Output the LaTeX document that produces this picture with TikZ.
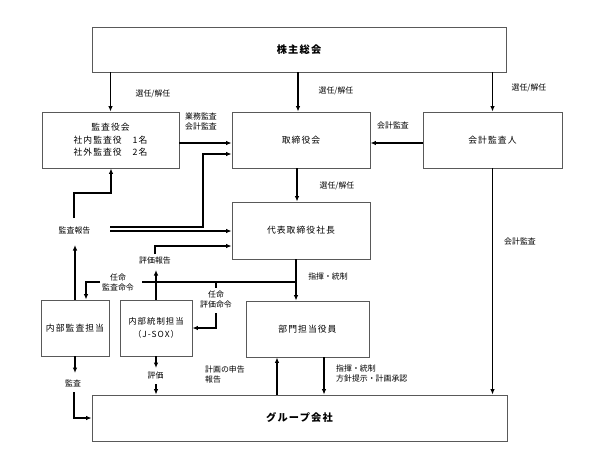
\documentclass[tikz,border=0pt]{standalone}
\usepackage{fontspec}
\setmainfont{Noto Sans CJK JP}
\newfontfamily\jpspaced{Noto Sans CJK JP}[LetterSpace=12]
\usetikzlibrary{arrows.meta}
\begin{document}
\begin{tikzpicture}[x=1pt,y=-1pt,
  box/.style={draw=black!65,line width=0.8pt,inner sep=0pt,align=center,
    font=\jpspaced\fontsize{8.8}{12.5}\selectfont},
  bigbox/.style={box,font=\jpspaced\bfseries\fontsize{10.2}{12}\selectfont},
  lbl/.style={font=\fontsize{7.9}{10}\selectfont,inner sep=0pt,align=center},
  arr/.style={line width=1.1pt,-{Latex[length=5.5pt,width=4.5pt]}},
  ln/.style={line width=1.1pt}]
\useasboundingbox[fill=white] (0,0) rectangle (600,455);

% boxes
\node[bigbox,minimum width=414pt,minimum height=45pt] (gm) at (299,49.5) {株主総会};
\node[box,minimum width=137pt,minimum height=56pt] (kansa) at (110.5,140) {監査役会\\社内監査役　1名\\社外監査役　2名};
\node[box,minimum width=138pt,minimum height=56pt] (tori) at (301,140) {取締役会};
\node[box,minimum width=139pt,minimum height=56pt] (kaikei) at (492.5,140) {会計監査人};
\node[box,minimum width=138pt,minimum height=57pt] (pres) at (301,230.5) {代表取締役社長};
\node[box,minimum width=68pt,minimum height=56pt] (naibu) at (75,328) {内部監査担当};
\node[box,minimum width=72pt,minimum height=56pt,font=\jpspaced\fontsize{8.4}{12.5}\selectfont] (tosei) at (156,328) {内部統制担当\\（J-SOX）};
\node[box,minimum width=123pt,minimum height=56pt] (bumon) at (307.5,329) {部門担当役員};
\node[bigbox,minimum width=415pt,minimum height=46pt] (group) at (299.5,418) {グループ会社};

% labels
\node[lbl] (l1) at (153,94) {選任/解任};
\node[lbl] (l2) at (336,91) {選任/解任};
\node[lbl] (l3) at (529,88) {選任/解任};
\node[lbl] (l4) at (201,122) {業務監査\\会計監査};
\node[lbl] (l5) at (393,126) {会計監査};
\node[lbl] (l6) at (337,186) {選任/解任};
\node[lbl] (l7) at (520,242) {会計監査};
\node[lbl] (kr) at (74.5,231) {監査報告};
\node[lbl] (hk) at (155,261) {評価報告};
\node[lbl] (nk) at (118,282) {任命\\監査命令};
\node[lbl] (nh) at (216,299) {任命\\評価命令};
\node[lbl] (l8) at (328,277) {指揮・統制};
\node[lbl] (ks) at (73,383) {監査};
\node[lbl] (hy) at (155.5,376) {評価};
\node[lbl,anchor=west,align=left] (l9) at (205,375) {計画の申告\\報告};
\node[lbl,anchor=west,align=left] (l10) at (336,374) {指揮・統制\\方針提示・計画承認};

% connectors from 株主総会
\draw[arr] (kansa.north |- gm.south) -- (kansa.north);
\draw[arr] (298,0 |- gm.south) -- (298,0 |- tori.north);
\draw[arr] (kaikei.north |- gm.south) -- (kaikei.north);

% audit connections to 取締役会
\draw[arr] (kaikei.west |- 0,143) -- (tori.east |- 0,143);
\draw[arr] (kansa.east |- 0,143) -- (tori.west |- 0,143);
\draw[arr] (297,0 |- tori.south) -- (297,0 |- pres.north);
\draw[arr] (kaikei.south) -- (kaikei.south |- group.north);

% 監査報告
\draw[arr] (naibu.north) -- (75,245);
\draw[arr] (74,218) -- (74,193) -- (111,193) -- (111,0 |- kansa.south);
\draw[arr] (110,227) -- (203,227) -- (203,154) -- (tori.west |- 0,154);
\draw[arr] (110,231) -- (pres.west |- 0,231);

% 評価報告
\draw[arr] (tosei.north) -- (156,270);
\draw[arr] (155,254) -- (155,246) -- (pres.west |- 0,246);

% 指揮・統制 and 任命
\draw[arr] (296,0 |- pres.south) -- (296,0 |- bumon.north);
\draw[ln] (142,282) -- (296,282);
\draw[arr] (100,282) -- (86,282) -- (86,0 |- naibu.north);
\draw[ln] (216,282) -- (216,288);
\draw[arr] (216,313) -- (216,328) -- (tosei.east |- 0,328);

% to group company
\draw[arr] (naibu.south) -- (75,373);
\draw[arr] (74,392) -- (74,418) -- (group.west |- 0,418);
\draw[arr] (tosei.south) -- (156,368);
\draw[arr] (156,384) -- (156,0 |- group.north);
\draw[arr] (277,0 |- group.north) -- (277,0 |- bumon.south);
\draw[arr] (324,0 |- bumon.south) -- (324,0 |- group.north);
\end{tikzpicture}
\end{document}
